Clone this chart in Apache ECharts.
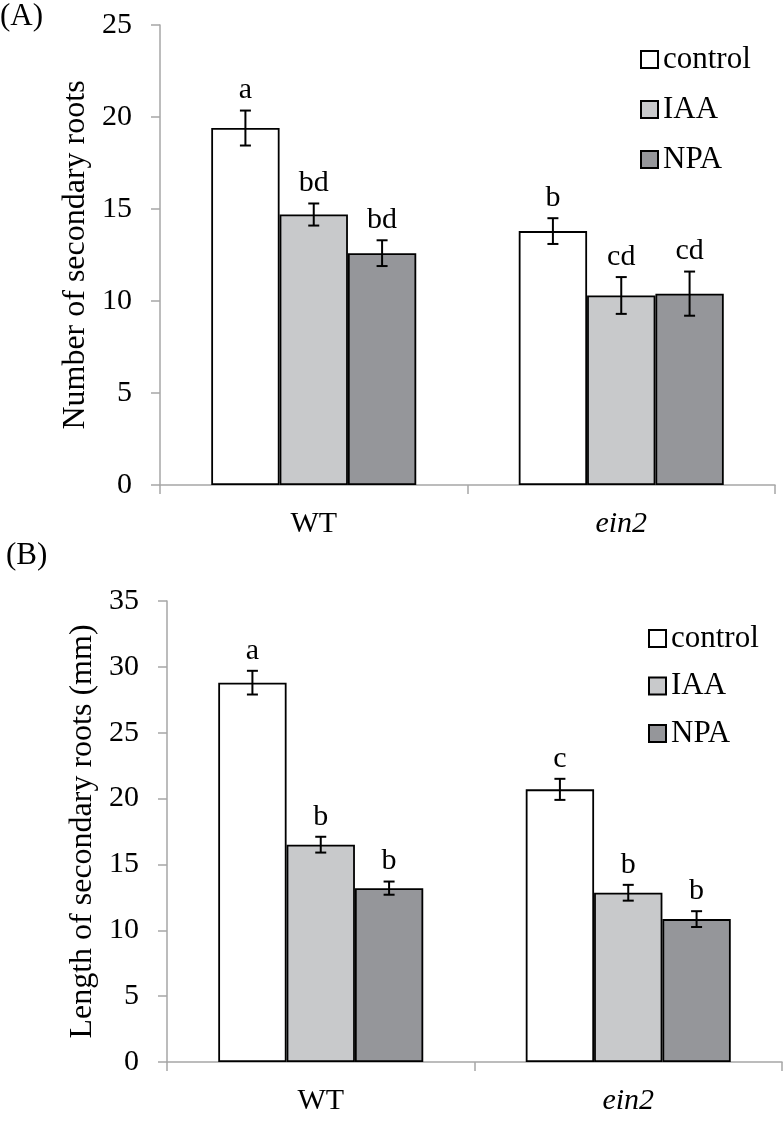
<!DOCTYPE html>
<html>
<head>
<meta charset="utf-8">
<script src="https://cdn.jsdelivr.net/npm/echarts@6/dist/echarts.min.js"></script>
<style>
html,body{margin:0;padding:0;background:#fff;}
#chart{width:783px;height:1125px;}
</style>
</head>
<body>
<div id="chart"></div>
<script>
// ---- data ----
const categories = ['WT', 'ein2'];
const treatments = ['control', 'IAA', 'NPA'];
const treatmentColors = ['#ffffff', '#c8c9cb', '#95969a'];

// (A) Number of secondary roots
const countControl = [19.4, 13.8];
const countIAA = [14.7, 10.3];
const countNPA = [12.6, 10.4];
const countErrControl = [0.95, 0.7];
const countErrIAA = [0.6, 1.0];
const countErrNPA = [0.7, 1.2];
const countLettersControl = ['a', 'b'];
const countLettersIAA = ['bd', 'cd'];
const countLettersNPA = ['bd', 'cd'];
const countTicks = [0, 5, 10, 15, 20, 25];

// (B) Length of secondary roots (mm)
const lengthControl = [28.8, 20.7];
const lengthIAA = [16.5, 12.85];
const lengthNPA = [13.2, 10.85];
const lengthErrControl = [0.9, 0.8];
const lengthErrIAA = [0.6, 0.6];
const lengthErrNPA = [0.5, 0.6];
const lengthLettersControl = ['a', 'c'];
const lengthLettersIAA = ['b', 'b'];
const lengthLettersNPA = ['b', 'b'];
const lengthTicks = [0, 5, 10, 15, 20, 25, 30, 35];

const FONT = 'Liberation Serif';
const AXIS_GRAY = '#a6a6a6';

const chart = echarts.init(document.getElementById('chart'), null, {renderer: 'canvas'});

function xAxisDef(gridIndex) {
  return {
    type: 'category', gridIndex: gridIndex,
    data: categories.map(c => c === 'ein2'
      ? {value: c, textStyle: {fontStyle: 'italic', fontFamily: FONT, fontSize: 30, color: '#000'}}
      : {value: c, textStyle: {fontFamily: FONT, fontSize: 30, color: '#000'}}),
    boundaryGap: true,
    axisLine: {show: true, lineStyle: {color: AXIS_GRAY, width: 1.5}},
    axisTick: {show: true, length: 9, lineStyle: {color: AXIS_GRAY, width: 1.5}},
    axisLabel: {show: true, color: '#000', fontFamily: FONT, fontSize: 30, margin: 24}
  };
}
function yAxisDef(gridIndex, ticks, name) {
  return {
    type: 'value', gridIndex: gridIndex,
    min: ticks[0], max: ticks[ticks.length - 1], interval: ticks[1] - ticks[0],
    name: name, nameLocation: 'middle', nameRotate: 90, nameGap: 55,
    nameTextStyle: {color: '#000', fontFamily: FONT, fontSize: 32},
    axisLine: {show: true, lineStyle: {color: AXIS_GRAY, width: 1.5}},
    axisTick: {show: true, length: 9, lineStyle: {color: AXIS_GRAY, width: 1.5}},
    splitLine: {show: false},
    axisLabel: {show: true, color: '#000', fontFamily: FONT, fontSize: 30, margin: 28}
  };
}

function barSeries(name, idx, values, axisIndex) {
  return {
    type: 'bar', name: name, xAxisIndex: axisIndex, yAxisIndex: axisIndex,
    data: values,
    barGap: '0%', barCategoryGap: '33.33%',
    itemStyle: {color: treatmentColors[idx], borderColor: '#000', borderWidth: 1.8},
    z: 2
  };
}

function errSeries(idx, values, errs, letters, axisIndex) {
  return {
    type: 'custom', xAxisIndex: axisIndex, yAxisIndex: axisIndex,
    data: values.map((v, i) => [i, v, errs[i]]),
    encode: {x: 0, y: 1},
    z: 5, silent: true,
    renderItem: function (params, api) {
      const ci = api.value(0), mean = api.value(1), err = api.value(2);
      const catW = api.size([1, 0])[0];
      const bw = catW * (1 - 0.3333) / 3;
      const base = api.coord([ci, mean]);
      const x = base[0] + (idx - 1) * bw;
      const yTop = api.coord([ci, mean + err])[1];
      const yBot = api.coord([ci, mean - err])[1];
      const cap = 5.5;
      const ls = {stroke: '#000', lineWidth: 2};
      return {
        type: 'group',
        children: [
          {type: 'line', shape: {x1: x, y1: yTop, x2: x, y2: yBot}, style: ls},
          {type: 'line', shape: {x1: x - cap, y1: yTop, x2: x + cap, y2: yTop}, style: ls},
          {type: 'line', shape: {x1: x - cap, y1: yBot, x2: x + cap, y2: yBot}, style: ls},
          {type: 'text', x: x, y: yTop - 5,
           style: {text: letters[params.dataIndex], fill: '#000', fontFamily: FONT, fontSize: 30,
                   textAlign: 'center', textVerticalAlign: 'bottom'}}
        ]
      };
    }
  };
}

const legendCommon = {
  orient: 'vertical', icon: 'rect', itemWidth: 17, itemHeight: 17,
  textStyle: {color: '#000', fontFamily: FONT, fontSize: 31},
  data: treatments
};

const option = {
  animation: false,
  backgroundColor: '#ffffff',
  textStyle: {fontFamily: FONT},
  graphic: [
    {type: 'text', left: 0, top: 1, style: {text: '(A)', fill: '#000', fontFamily: FONT, fontSize: 31}},
    {type: 'text', left: 6, top: 540, style: {text: '(B)', fill: '#000', fontFamily: FONT, fontSize: 31}}
  ],
  legend: [
    Object.assign({}, legendCommon, {left: 635, top: 39, itemGap: 19}),
    Object.assign({}, legendCommon, {left: 643, top: 618, itemGap: 16.5})
  ],
  grid: [
    {left: 160, top: 25, width: 615, height: 460},
    {left: 167, top: 601, width: 615, height: 461}
  ],
  xAxis: [xAxisDef(0), xAxisDef(1)],
  yAxis: [
    yAxisDef(0, countTicks, 'Number of secondary roots'),
    yAxisDef(1, lengthTicks, 'Length of secondary roots (mm)')
  ],
  series: [
    barSeries('control', 0, countControl, 0),
    barSeries('IAA', 1, countIAA, 0),
    barSeries('NPA', 2, countNPA, 0),
    errSeries(0, countControl, countErrControl, countLettersControl, 0),
    errSeries(1, countIAA, countErrIAA, countLettersIAA, 0),
    errSeries(2, countNPA, countErrNPA, countLettersNPA, 0),
    barSeries('control', 0, lengthControl, 1),
    barSeries('IAA', 1, lengthIAA, 1),
    barSeries('NPA', 2, lengthNPA, 1),
    errSeries(0, lengthControl, lengthErrControl, lengthLettersControl, 1),
    errSeries(1, lengthIAA, lengthErrIAA, lengthLettersIAA, 1),
    errSeries(2, lengthNPA, lengthErrNPA, lengthLettersNPA, 1)
  ]
};
chart.setOption(option);
</script>
</body>
</html>
